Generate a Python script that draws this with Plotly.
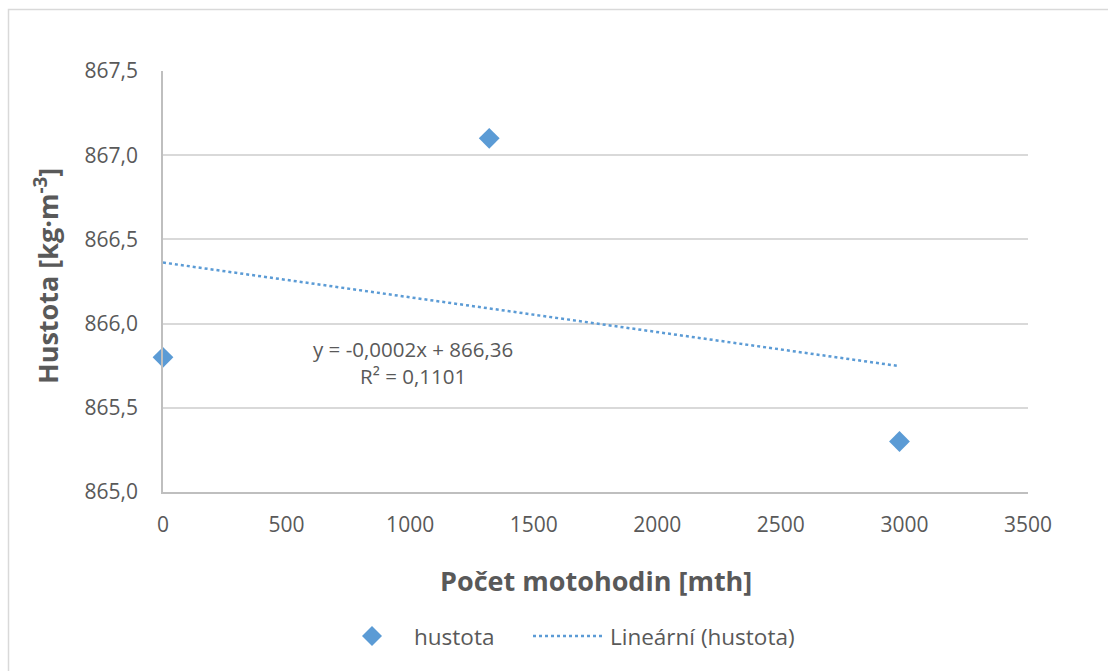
import numpy as np
import plotly.graph_objects as go

# Data
motohodiny = [0, 1320, 2980]
hustota = [865.8, 867.1, 865.3]
x_ticks = [0, 500, 1000, 1500, 2000, 2500, 3000, 3500]
y_ticks = [865.0, 865.5, 866.0, 866.5, 867.0, 867.5]
y_tick_labels = ["865,0", "865,5", "866,0", "866,5", "867,0", "867,5"]
series_name = "hustota"
trend_name = "Lineární (hustota)"

slope, intercept = np.polyfit(motohodiny, hustota, 1)
pred = np.polyval([slope, intercept], motohodiny)
r2 = 1 - np.sum((np.array(hustota) - pred) ** 2) / np.sum((np.array(hustota) - np.mean(hustota)) ** 2)
trend_x = [min(motohodiny), max(motohodiny)]
trend_y = [slope * v + intercept for v in trend_x]

FONT = "Open Sans"
BLUE = "#5b9bd5"
TXT = "#595959"

W, H = 1108, 671
L, R, T, B = 163, 80, 71, 179
pw, ph = W - L - R, H - T - B

def px_x(p):
    return (p - L) / pw

def px_y(p):
    return (H - B - p) / ph

fig = go.Figure()
fig.add_trace(go.Scatter(
    x=motohodiny, y=hustota, mode="markers", name=series_name,
    marker=dict(symbol="diamond", size=16, color=BLUE, line=dict(width=0)),
    cliponaxis=False, showlegend=False,
))
fig.add_trace(go.Scatter(
    x=trend_x, y=trend_y, mode="lines", name=trend_name,
    line=dict(color=BLUE, width=2.5, dash="dot"), showlegend=False,
))

eq = "y = -{:.4f}x + {:.2f}".format(abs(slope), intercept).replace(".", ",")
r2txt = "R² = {:.4f}".format(r2).replace(".", ",")

leg_y = px_y(636)
annotations = [
    dict(x=1010, y=865.77, xref="x", yref="y", text=eq + "<br>" + r2txt,
         showarrow=False, align="center", font=dict(family=FONT, size=20.5, color=TXT)),
    dict(x=0.5, y=px_y(580), xref="paper", yref="paper", text="<b>Počet motohodin [mth]</b>",
         showarrow=False, xanchor="center", yanchor="middle",
         font=dict(family=FONT, size=27, color=TXT)),
    dict(x=px_x(46), y=px_y(276), xref="paper", yref="paper",
         text="<b>Hustota [kg·m<sup>-3</sup>]</b>", textangle=-90,
         showarrow=False, xanchor="center", yanchor="middle",
         font=dict(family=FONT, size=27, color=TXT)),
    # legend texts
    dict(x=px_x(412), y=leg_y, xref="paper", yref="paper", text=series_name,
         showarrow=False, xanchor="left", yanchor="middle",
         font=dict(family=FONT, size=22.5, color=TXT)),
    dict(x=px_x(608), y=leg_y, xref="paper", yref="paper", text=trend_name,
         showarrow=False, xanchor="left", yanchor="middle",
         font=dict(family=FONT, size=22.5, color=TXT)),
]

dx, dy = 10 / pw, 10 / ph
cx = px_x(372)
shapes = [
    dict(type="rect", xref="paper", yref="paper",
         x0=px_x(8.5), x1=px_x(1115), y0=px_y(680), y1=px_y(9.5),
         line=dict(color="#d9d9d9", width=1.5), fillcolor="rgba(0,0,0,0)", layer="below"),
    # legend diamond
    dict(type="path", xref="paper", yref="paper",
         path=f"M {cx - dx} {leg_y} L {cx} {leg_y + dy} L {cx + dx} {leg_y} L {cx} {leg_y - dy} Z",
         fillcolor=BLUE, line=dict(width=0)),
    # legend dotted line
    dict(type="line", xref="paper", yref="paper",
         x0=px_x(533), x1=px_x(602), y0=leg_y, y1=leg_y,
         line=dict(color=BLUE, width=2.5, dash="dot")),
]

fig.update_layout(
    width=W, height=H,
    margin=dict(l=L, r=R, t=T, b=B),
    paper_bgcolor="white", plot_bgcolor="white",
    font=dict(family=FONT, size=21, color=TXT),
    showlegend=False,
    annotations=annotations,
    shapes=shapes,
    xaxis=dict(range=[0, 3500], tickvals=x_ticks, ticktext=[str(v) for v in x_ticks],
               showgrid=False, zeroline=False, showline=True, linecolor="#bfbfbf", linewidth=1.5,
               ticks="", ticklabelstandoff=13, tickfont=dict(family=FONT, size=21, color=TXT)),
    yaxis=dict(range=[865.0, 867.5], tickvals=y_ticks, ticktext=y_tick_labels,
               showgrid=True, gridcolor="#d9d9d9", gridwidth=1.5, zeroline=False,
               showline=True, linecolor="#bfbfbf", linewidth=1.5,
               ticks="", ticklabelstandoff=19, tickfont=dict(family=FONT, size=21, color=TXT)),
)

fig.write_html("out.html")
